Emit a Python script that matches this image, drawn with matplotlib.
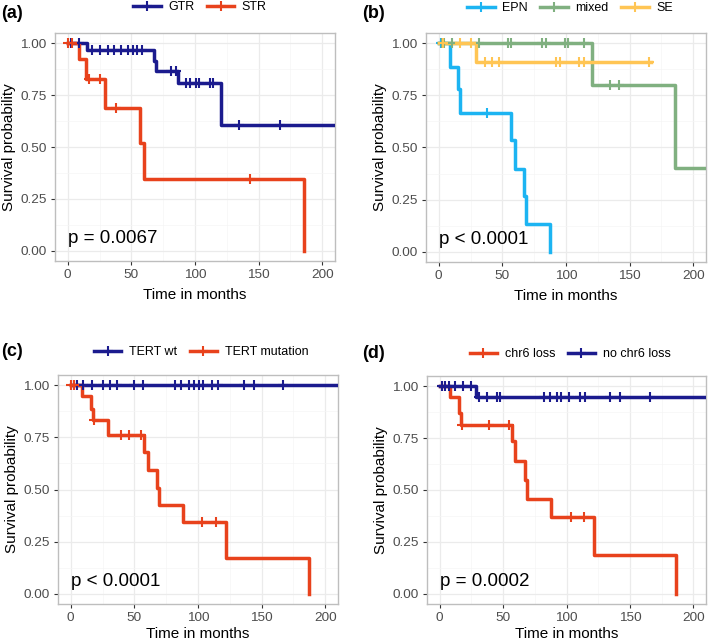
import matplotlib
matplotlib.use('Agg')
import matplotlib.pyplot as plt
from matplotlib.lines import Line2D
import numpy as np

plt.rcParams['font.family'] = ['Liberation Sans', 'DejaVu Sans']

# ---- data ----
# (a) extent of resection
GTR_t = [0, 15, 67.7, 69.5, 86.6, 120.7, 215]
GTR_s = [1, 0.968, 0.915, 0.867, 0.808, 0.605, 0.605]
GTR_cens = [2.6, 9.2, 19, 25.5, 31.5, 36, 42, 47, 51, 54.5, 58, 81.4, 85.3,
            93.2, 95.8, 101, 102.9, 111.5, 114.2, 134.4, 166.7]
STR_t = [0, 8.7, 14.4, 28.9, 56.4, 59.6, 185.6]
STR_s = [1, 0.923, 0.829, 0.688, 0.517, 0.344, 0]
STR_cens = [0.5, 3, 17, 25, 38, 143]

# (b) histology
EPN_t = [0, 8.9, 14.9, 16.9, 57.1, 59.7, 67, 68.8, 87.4]
EPN_s = [1, 0.887, 0.78, 0.664, 0.534, 0.397, 0.265, 0.132, 0]
EPN_cens = [1.5, 38.3]
mixed_t = [0, 120.5, 185.7, 215]
mixed_s = [1, 0.80, 0.40, 0.40]
mixed_cens = [2.5, 4.5, 10.5, 31.8, 54.5, 56.6, 81, 84.5, 99, 101.5, 114, 134.5, 142]
SE_t = [0, 29.2, 167]
SE_s = [1, 0.912, 0.912]
SE_cens = [3, 17, 25, 36, 42, 47.5, 92, 95, 110, 114, 165]

# (c) TERT status
wt_t = [0, 215]
wt_s = [1, 1]
wt_cens = [2.5, 5, 9.5, 17, 25, 31, 36, 49.5, 57, 82, 86.6, 93, 96.5, 101, 104,
           110.7, 115.5, 136, 143.8, 166.7]
mut_t = [0, 8.7, 15.7, 17.6, 29.4, 57.7, 60.4, 67.7, 69, 87.9, 122, 186.9]
mut_s = [1, 0.95, 0.886, 0.832, 0.763, 0.678, 0.595, 0.507, 0.427, 0.342, 0.171, 0]
mut_cens = [0.5, 2.5, 18.5, 39.5, 46, 55, 103, 114]

# (d) chr6 status
chr6_t = [0, 7.9, 15, 16.8, 57, 59.6, 67, 68.8, 87.7, 121.3, 186.4]
chr6_s = [1, 0.947, 0.872, 0.815, 0.738, 0.642, 0.547, 0.457, 0.369, 0.185, 0]
chr6_cens = [1.5, 17.5, 38.5, 54.5, 103.5, 114]
no6_t = [0, 28.9, 215]
no6_s = [1, 0.949, 0.949]
no6_cens = [1.5, 4, 7, 12, 18.5, 25, 31, 37, 45, 47.5, 82, 87, 92.5, 96, 101.6,
            110.8, 114.7, 134.4, 142.3, 165.9]

NAVY = '#1B1B8E'
RED = '#E8421C'
BLUE = '#1CB4F2'
GREEN = '#80B080'
YELLOW = '#FFC554'

W, H = 708, 644


def px_rect(left, top, right, bottom):
    return [left / W, 1 - bottom / H, (right - left) / W, (bottom - top) / H]


def surv_at(t, times, surv):
    idx = np.searchsorted(times, t, side='right') - 1
    return np.asarray(surv)[idx]


def km_panel(fig, rect, curves, pval, tag, tag_xy, legend_xy, xpad=5):
    ax = fig.add_axes(px_rect(*rect))
    for label, times, surv, cens, color in curves:
        ax.step(times, surv, where='post', color=color, lw=2.5, zorder=3)
        ax.plot(cens, surv_at(cens, times, surv), ls='none', marker='+',
                ms=7.5, mew=1.5, color=color, zorder=4)
    ax.set_xlim(-10, 210)
    ax.set_ylim(-0.05, 1.05)
    ax.set_xticks([0, 50, 100, 150, 200])
    ax.set_xticks([25, 75, 125, 175], minor=True)
    ax.set_yticks([0, 0.25, 0.5, 0.75, 1])
    ax.set_yticklabels(['0.00', '0.25', '0.50', '0.75', '1.00'])
    ax.set_yticks([0.125, 0.375, 0.625, 0.875], minor=True)
    ax.grid(which='major', color='#EBEBEB', lw=0.9)
    ax.grid(which='minor', color='#F5F5F5', lw=0.5)
    ax.set_axisbelow(True)
    ax.tick_params(which='minor', length=0)
    ax.tick_params(which='major', length=3, color='#333333', width=0.8,
                   labelsize=9.7, labelcolor='#4D4D4D', pad=3)
    for sp in ax.spines.values():
        sp.set_color('#BEBEBE')
        sp.set_linewidth(1)
    ax.set_xlabel('Time in months', fontsize=11, labelpad=xpad)
    ax.set_ylabel('Survival probability', fontsize=11, labelpad=3)
    ax.text(0, 0.06, pval, fontsize=13.5, ha='left', va='center', zorder=5)
    fig.text(tag_xy[0] / W, 1 - tag_xy[1] / H, tag, fontweight='bold',
             fontsize=13, ha='left', va='center')
    handles = [Line2D([], [], color=c[4], lw=2.5, marker='+', ms=7.5, mew=1.5)
               for c in curves]
    labels = [c[0] for c in curves]
    fig.legend(handles, labels, loc='center',
               bbox_to_anchor=(legend_xy[0] / W, 1 - legend_xy[1] / H),
               ncol=len(curves), frameon=False, fontsize=9, handlelength=2.2,
               columnspacing=1.0, handletextpad=0.6, borderpad=0)
    return ax


fig = plt.figure(figsize=(W / 100, H / 100), dpi=100)

km_panel(fig, (55, 33, 335, 261),
         [('GTR', GTR_t, GTR_s, GTR_cens, NAVY),
          ('STR', STR_t, STR_s, STR_cens, RED)],
         'p = 0.0067', '(a)', (1, 13), (200, 7))

km_panel(fig, (426, 33, 706, 262),
         [('EPN', EPN_t, EPN_s, EPN_cens, BLUE),
          ('mixed', mixed_t, mixed_s, mixed_cens, GREEN),
          ('SE', SE_t, SE_s, SE_cens, YELLOW)],
         'p < 0.0001', '(b)', (362, 13), (570, 8))

km_panel(fig, (58, 375, 338, 604),
         [('TERT wt', wt_t, wt_s, wt_cens, NAVY),
          ('TERT mutation', mut_t, mut_s, mut_cens, RED)],
         'p < 0.0001', '(c)', (1, 352), (201, 352), xpad=2)

km_panel(fig, (427, 376, 706, 604),
         [('chr6 loss', chr6_t, chr6_s, chr6_cens, RED),
          ('no chr6 loss', no6_t, no6_s, no6_cens, NAVY)],
         'p = 0.0002', '(d)', (362, 354), (570, 354), xpad=2)

fig.savefig('out.png', dpi=100)
